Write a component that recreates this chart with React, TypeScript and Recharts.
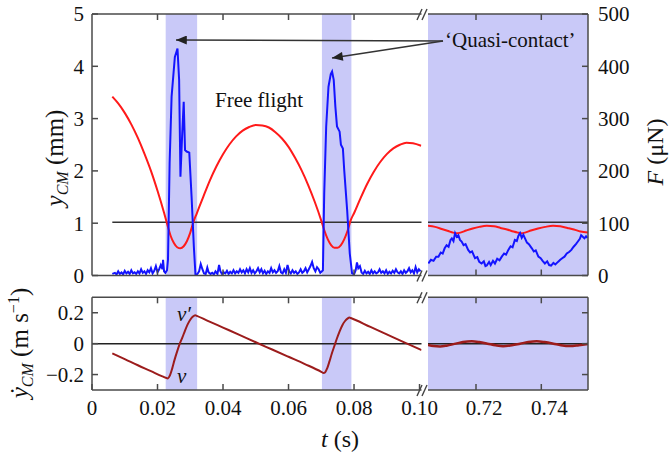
import React from 'react';
import { ComposedChart, Line, XAxis, YAxis, ReferenceArea, ReferenceLine } from 'recharts';

// height of the centre of mass, y_CM (mm) — first window 0–0.10 s
const heightEarly: [number, number][] = [
  [0.0062, 3.42], [0.008, 3.29], [0.010, 3.11], [0.012, 2.89], [0.014, 2.63], [0.016, 2.33],
  [0.018, 2.0], [0.020, 1.62], [0.022, 1.2], [0.023, 0.97], [0.024, 0.76], [0.025, 0.62],
  [0.026, 0.54], [0.027, 0.52], [0.028, 0.56], [0.029, 0.66], [0.030, 0.82], [0.031, 1.03],
  [0.032, 1.19], [0.034, 1.51], [0.036, 1.82], [0.038, 2.09], [0.040, 2.32], [0.042, 2.51],
  [0.044, 2.66], [0.046, 2.77], [0.048, 2.84], [0.050, 2.88], [0.052, 2.87], [0.054, 2.83],
  [0.056, 2.74], [0.058, 2.62], [0.060, 2.46], [0.062, 2.25], [0.064, 2.01], [0.066, 1.73],
  [0.068, 1.41], [0.070, 1.05], [0.071, 0.85], [0.072, 0.69], [0.073, 0.58], [0.074, 0.53],
  [0.075, 0.53], [0.076, 0.58], [0.077, 0.69], [0.078, 0.85], [0.079, 1.06], [0.080, 1.19],
  [0.082, 1.48], [0.084, 1.75], [0.086, 1.98], [0.088, 2.17], [0.090, 2.32], [0.092, 2.43],
  [0.094, 2.5], [0.096, 2.54], [0.098, 2.53], [0.1005, 2.48],
];

// y_CM (mm) — late window, steady bouncing
const heightLate: [number, number][] = [
  [0.7053, 0.95], [0.7075, 0.93], [0.7095, 0.89], [0.7115, 0.85], [0.713, 0.82], [0.7141, 0.81],
  [0.7152, 0.82], [0.717, 0.86], [0.719, 0.9], [0.721, 0.93], [0.7233, 0.95], [0.7255, 0.94],
  [0.7275, 0.91], [0.7295, 0.88], [0.7315, 0.84], [0.7328, 0.82], [0.7338, 0.81], [0.735, 0.82],
  [0.7368, 0.86], [0.739, 0.9], [0.7412, 0.93], [0.7436, 0.95], [0.7458, 0.94], [0.748, 0.91],
  [0.75, 0.88], [0.752, 0.84], [0.7543, 0.82],
];

// force F (µN) — first window
const forceEarly: [number, number][] = [
  [0.0062, 3], [0.007, 5], [0.0075, 2], [0.008, 8], [0.0085, 3], [0.009, 6], [0.0095, 2],
  [0.010, 9], [0.0105, 4], [0.011, 7], [0.0115, 3], [0.012, 10], [0.0125, 4], [0.013, 6],
  [0.0135, 3], [0.014, 8], [0.0145, 4], [0.015, 12], [0.0155, 5], [0.016, 8], [0.0165, 3],
  [0.017, 10], [0.0175, 6], [0.018, 14], [0.0185, 4], [0.019, 9], [0.0195, 18], [0.020, 6],
  [0.0205, 12], [0.021, 20], [0.0215, 12], [0.0217, 30], [0.022, 8], [0.0224, 5], [0.0229, 10],
  [0.0232, 30], [0.0237, 215], [0.0243, 342], [0.0253, 418], [0.0261, 434], [0.0266, 374],
  [0.027, 189], [0.0275, 265], [0.028, 332], [0.0284, 240], [0.0289, 237], [0.0297, 235],
  [0.0304, 151], [0.0311, 55], [0.0316, 0], [0.0322, 3], [0.0327, 8], [0.0332, 22], [0.0337, 12],
  [0.0342, 4], [0.0347, 3], [0.0352, 15], [0.0356, 6], [0.0362, 3], [0.0367, 5], [0.0372, 2],
  [0.0377, 8], [0.0383, 3], [0.0388, 20], [0.0392, 8], [0.0397, 3], [0.0402, 6], [0.0407, 4],
  [0.0412, 9], [0.0417, 3], [0.0422, 7], [0.0427, 4], [0.0432, 10], [0.0437, 4], [0.0442, 8],
  [0.0447, 5], [0.0452, 12], [0.0457, 6], [0.0462, 10], [0.0467, 4], [0.0472, 12], [0.0477, 6],
  [0.0482, 14], [0.0487, 5], [0.0492, 10], [0.0497, 4], [0.0502, 8], [0.0507, 14], [0.0512, 6],
  [0.0517, 12], [0.0522, 4], [0.0527, 9], [0.0532, 3], [0.0537, 8], [0.0542, 5], [0.0547, 14],
  [0.0552, 6], [0.0557, 10], [0.0562, 5], [0.0567, 8], [0.0572, 18], [0.0577, 6], [0.0582, 4],
  [0.0587, 12], [0.0592, 5], [0.0597, 20], [0.0602, 8], [0.0607, 4], [0.0612, 10], [0.0617, 5],
  [0.0622, 8], [0.0627, 3], [0.0632, 6], [0.0637, 12], [0.0642, 5], [0.0647, 8], [0.0652, 14],
  [0.0657, 6], [0.0662, 12], [0.0667, 18], [0.0672, 26], [0.0677, 14], [0.0682, 8], [0.0687, 16],
  [0.0692, 12], [0.0697, 5], [0.0702, 8], [0.0705, 10], [0.0709, 157], [0.0715, 285],
  [0.0722, 361], [0.0729, 385], [0.0733, 390], [0.0738, 374], [0.0743, 323], [0.0748, 285],
  [0.0756, 275], [0.076, 250], [0.0766, 243], [0.077, 202], [0.0779, 125], [0.0787, 42],
  [0.0794, 4], [0.08, 2], [0.0805, 10], [0.0809, 25], [0.0813, 14], [0.0818, 18], [0.0823, 6],
  [0.0828, 3], [0.0833, 9], [0.0838, 4], [0.0843, 7], [0.0848, 3], [0.0853, 10], [0.0858, 4],
  [0.0863, 8], [0.0868, 4], [0.0873, 6], [0.0878, 12], [0.0883, 5], [0.0888, 8], [0.0893, 4],
  [0.0898, 10], [0.0903, 3], [0.0908, 7], [0.0913, 4], [0.0918, 9], [0.0923, 5], [0.0928, 12],
  [0.0933, 6], [0.0938, 4], [0.0943, 8], [0.0948, 3], [0.0953, 10], [0.0958, 5], [0.0963, 8],
  [0.0968, 14], [0.0973, 6], [0.0978, 10], [0.0983, 4], [0.0988, 16], [0.0993, 6], [0.0998, 12],
  [0.1003, 8],
];

// force F (µN) — late window
const forceLate: [number, number][] = [
  [0.7054, 23], [0.7062, 30], [0.707, 28], [0.7078, 36], [0.7085, 36], [0.7092, 44], [0.7098, 42],
  [0.7104, 52], [0.711, 58], [0.7116, 55], [0.7122, 68], [0.7126, 71], [0.7131, 66], [0.7136, 81],
  [0.7141, 74], [0.7146, 77], [0.7151, 68], [0.7156, 65], [0.7162, 58], [0.7168, 60], [0.7176, 49],
  [0.7182, 44], [0.7188, 46], [0.7197, 33], [0.7204, 35], [0.721, 26], [0.7217, 23], [0.7224, 27],
  [0.7229, 18], [0.7233, 19], [0.724, 26], [0.7245, 20], [0.7252, 28], [0.7258, 23], [0.7265, 32],
  [0.7272, 29], [0.7279, 36], [0.7286, 42], [0.7292, 40], [0.7299, 49], [0.7306, 56], [0.7312, 54],
  [0.7319, 68], [0.7325, 66], [0.733, 76], [0.7335, 81], [0.734, 72], [0.7345, 78], [0.735, 71],
  [0.7356, 63], [0.7362, 60], [0.7371, 52], [0.7377, 46], [0.7383, 48], [0.7391, 36], [0.7398, 33],
  [0.7404, 28], [0.7411, 23], [0.7418, 27], [0.7424, 20], [0.743, 19], [0.7437, 24], [0.7443, 21],
  [0.7451, 26], [0.7458, 30], [0.7464, 33], [0.7471, 36], [0.7478, 42], [0.7485, 45], [0.7492, 49],
  [0.7499, 55], [0.7506, 60], [0.7512, 65], [0.7518, 70], [0.7522, 77], [0.7527, 74], [0.7532, 71],
  [0.7537, 75], [0.7541, 72],
];

// vertical velocity of the centre of mass (m/s)
const velocityEarly: [number, number][] = [
  [0.0062, -0.063], [0.010, -0.1], [0.014, -0.14], [0.018, -0.178], [0.0215, -0.212],
  [0.0232, -0.225], [0.0238, -0.205], [0.0245, -0.16], [0.0252, -0.105], [0.026, -0.05],
  [0.0268, 0.0], [0.0276, 0.04], [0.0284, 0.085], [0.0292, 0.125], [0.030, 0.155],
  [0.0308, 0.175], [0.0315, 0.184], [0.032, 0.18], [0.035, 0.151], [0.040, 0.104],
  [0.045, 0.057], [0.050, 0.009], [0.055, -0.038], [0.060, -0.085], [0.065, -0.132],
  [0.070, -0.182], [0.0707, -0.19], [0.0712, -0.185], [0.0718, -0.16], [0.0725, -0.115],
  [0.0732, -0.065], [0.074, -0.015], [0.0748, 0.035], [0.0756, 0.08], [0.0764, 0.118],
  [0.0772, 0.145], [0.078, 0.162], [0.0786, 0.169], [0.079, 0.166], [0.085, 0.108],
  [0.090, 0.06], [0.095, 0.012], [0.1006, -0.042],
];

const velocityLate: [number, number][] = [
  [0.7053, -0.008], [0.707, -0.015], [0.709, -0.018], [0.711, -0.013], [0.7138, 0.0],
  [0.716, 0.01], [0.7187, 0.015], [0.721, 0.01], [0.7235, 0.0], [0.726, -0.011],
  [0.7283, -0.017], [0.731, -0.01], [0.7335, 0.0], [0.736, 0.01], [0.7386, 0.015],
  [0.741, 0.01], [0.7437, 0.0], [0.746, -0.01], [0.7488, -0.016], [0.7515, -0.01],
  [0.7543, -0.002],
];

// shaded 'quasi-contact' intervals (s)
const contactBands: [number, number][] = [[0.0225, 0.0321], [0.0702, 0.0792]];

const earlyRange: [number, number] = [0, 0.1006];
const lateRange: [number, number] = [0.7053, 0.7543];
const earlyTicks = [0, 0.02, 0.04, 0.06, 0.08, 0.1];
const earlyInnerTicks = [0.02, 0.04, 0.06, 0.08];
const lateTicks = [0.72, 0.74];
const heightTicks = [0, 1, 2, 3, 4, 5];
const forceTicks = [0, 100, 200, 300, 400, 500];
const velocityTicks = [-0.2, 0, 0.2];

const thresholdHeight = 1.02;
const thresholdStart = 0.0062;

const W = 669;
const H = 459;
const SERIF = 'Liberation Serif, DejaVu Serif, serif';
const AXIS = '#4a4a4a';
const RED = '#ff1a1a';
const BLUE = '#1414ff';
const DARK_RED = '#9c1c1c';
const BAND = '#c9c9f8';

const rows = (pts: [number, number][]) => pts.map(([t, v]) => ({ t, v }));

const axisLine = { stroke: AXIS, strokeWidth: 1.5 };
const tickLine = { stroke: AXIS, strokeWidth: 1.5 };
const blank = () => '';
const fmtPlain = (v: number) => String(v);
const fmtTime = (v: number) => (v === 0 ? '0' : v.toFixed(2));
const fmtVel = (v: number) => (v === 0 ? '0' : v < 0 ? '\u2212' + Math.abs(v).toFixed(1) : v.toFixed(1));

// plain svg tick label so the serif face is set on the text node itself
const tickLabel = (fmt: (v: number) => string, shift = 0) => (p: any) => {
  const dy = p.verticalAnchor === 'start' ? '0.71em' : '0.35em';
  return (
    <text x={p.x + shift} y={p.y} dy={dy} textAnchor={p.textAnchor} fill="#111"
      fontSize={21} fontFamily={SERIF} style={{ fontFamily: SERIF }}>
      {fmt(p.payload.value)}
    </text>
  );
};

const layer: React.CSSProperties = { position: 'absolute', left: 0, top: 0 };

const topMargin = { top: 4, bottom: 173.5 };
const bottomMargin = { top: 287.3, bottom: 29 };

const Slashes = ({ y }: { y: number }) => (
  <g stroke="#444" strokeWidth={1.4}>
    <line x1={417} y1={y + 6} x2={422} y2={y - 5} />
    <line x1={422} y1={y + 6} x2={427} y2={y - 5} />
  </g>
);

const serif = { fontFamily: SERIF };

export default function App() {
  return (
    <div style={{ position: 'absolute', left: 0, top: 0, width: W, height: H, background: '#fff', fontFamily: SERIF }}>
      {/* top panel, early window */}
      <div style={layer}>
        <ComposedChart width={W} height={H} margin={{ ...topMargin, left: 0, right: 247.5 }}>
          <XAxis xAxisId="b" type="number" dataKey="t" domain={earlyRange} allowDataOverflow
            ticks={earlyInnerTicks} tickFormatter={blank} height={10} tickSize={-6}
            axisLine={axisLine} tickLine={tickLine} />
          <XAxis xAxisId="t" orientation="top" type="number" dataKey="t" domain={earlyRange} allowDataOverflow
            ticks={earlyInnerTicks} tickFormatter={blank} height={10} tickSize={-6}
            axisLine={axisLine} tickLine={tickLine} />
          <YAxis yAxisId="mm" type="number" domain={[0, 5]} allowDataOverflow ticks={heightTicks}
            width={92} tickSize={-6} tickMargin={14} tick={tickLabel(fmtPlain)}
            axisLine={axisLine} tickLine={tickLine} />
          <YAxis yAxisId="F" orientation="right" type="number" domain={[0, 500]} allowDataOverflow hide />
          {contactBands.map(([a, b]) => (
            <ReferenceArea key={a} xAxisId="b" yAxisId="mm" x1={a} x2={b} fill={BAND} fillOpacity={1} stroke="none" />
          ))}
          <ReferenceLine xAxisId="b" yAxisId="mm" stroke="#333" strokeWidth={1.5}
            segment={[{ x: thresholdStart, y: thresholdHeight }, { x: earlyRange[1], y: thresholdHeight }]} />
          <Line xAxisId="b" yAxisId="mm" data={rows(heightEarly)} dataKey="v" type="monotone"
            stroke={RED} strokeWidth={2} dot={false} isAnimationActive={false} />
          <Line xAxisId="b" yAxisId="F" data={rows(forceEarly)} dataKey="v" type="linear"
            stroke={BLUE} strokeWidth={2} dot={false} isAnimationActive={false} />
        </ComposedChart>
      </div>

      {/* top panel, late window */}
      <div style={layer}>
        <ComposedChart width={W} height={H} margin={{ ...topMargin, left: 428, right: 0 }}>
          <XAxis xAxisId="b" type="number" dataKey="t" domain={lateRange} allowDataOverflow
            ticks={lateTicks} tickFormatter={blank} height={10} tickSize={-6}
            axisLine={axisLine} tickLine={tickLine} />
          <XAxis xAxisId="t" orientation="top" type="number" dataKey="t" domain={lateRange} allowDataOverflow
            ticks={lateTicks} tickFormatter={blank} height={10} tickSize={-6}
            axisLine={axisLine} tickLine={tickLine} />
          <YAxis yAxisId="mm" type="number" domain={[0, 5]} allowDataOverflow hide />
          <YAxis yAxisId="F" orientation="right" type="number" domain={[0, 500]} allowDataOverflow
            ticks={forceTicks} width={81} tickSize={-6} tickMargin={16} tick={tickLabel(fmtPlain)}
            axisLine={axisLine} tickLine={tickLine} />
          <ReferenceArea xAxisId="b" yAxisId="mm" x1={lateRange[0]} x2={lateRange[1]} fill={BAND} fillOpacity={1} stroke="none" />
          <ReferenceLine xAxisId="b" yAxisId="mm" y={thresholdHeight} stroke="#333" strokeWidth={1.5} />
          <Line xAxisId="b" yAxisId="mm" data={rows(heightLate)} dataKey="v" type="monotone"
            stroke={RED} strokeWidth={2} dot={false} isAnimationActive={false} />
          <Line xAxisId="b" yAxisId="F" data={rows(forceLate)} dataKey="v" type="linear"
            stroke={BLUE} strokeWidth={2} dot={false} isAnimationActive={false} />
        </ComposedChart>
      </div>

      {/* bottom panel, early window */}
      <div style={layer}>
        <ComposedChart width={W} height={H} margin={{ ...bottomMargin, left: 0, right: 247.5 }}>
          <XAxis xAxisId="b" type="number" dataKey="t" domain={earlyRange} allowDataOverflow
            ticks={earlyTicks} height={40} tickSize={-6} tickMargin={16}
            tick={tickLabel(fmtTime)} axisLine={axisLine} tickLine={tickLine} />
          <XAxis xAxisId="t" orientation="top" type="number" dataKey="t" domain={earlyRange} allowDataOverflow
            ticks={earlyInnerTicks} tickFormatter={blank} height={10} tickSize={-6}
            axisLine={axisLine} tickLine={tickLine} />
          <YAxis yAxisId="v" type="number" domain={[-0.3, 0.3]} allowDataOverflow ticks={velocityTicks}
            width={92} tickSize={-6} tickMargin={14} tick={tickLabel(fmtVel)}
            axisLine={axisLine} tickLine={tickLine} />
          {contactBands.map(([a, b]) => (
            <ReferenceArea key={a} xAxisId="b" yAxisId="v" x1={a} x2={b} fill={BAND} fillOpacity={1} stroke="none" />
          ))}
          <ReferenceLine xAxisId="b" yAxisId="v" y={0} stroke="#222" strokeWidth={1.5} />
          <Line xAxisId="b" yAxisId="v" data={rows(velocityEarly)} dataKey="v" type="monotone"
            stroke={DARK_RED} strokeWidth={2} dot={false} isAnimationActive={false} />
        </ComposedChart>
      </div>

      {/* bottom panel, late window */}
      <div style={layer}>
        <ComposedChart width={W} height={H} margin={{ ...bottomMargin, left: 428, right: 0 }}>
          <XAxis xAxisId="b" type="number" dataKey="t" domain={lateRange} allowDataOverflow
            ticks={lateTicks} height={40} tickSize={-6} tickMargin={16}
            tick={tickLabel(fmtTime, 8)} axisLine={axisLine} tickLine={tickLine} />
          <XAxis xAxisId="t" orientation="top" type="number" dataKey="t" domain={lateRange} allowDataOverflow
            ticks={lateTicks} tickFormatter={blank} height={10} tickSize={-6}
            axisLine={axisLine} tickLine={tickLine} />
          <YAxis yAxisId="v" orientation="right" type="number" domain={[-0.3, 0.3]} allowDataOverflow
            ticks={velocityTicks} tickFormatter={blank} width={81} tickSize={-6}
            axisLine={axisLine} tickLine={tickLine} />
          <ReferenceArea xAxisId="b" yAxisId="v" x1={lateRange[0]} x2={lateRange[1]} fill={BAND} fillOpacity={1} stroke="none" />
          <ReferenceLine xAxisId="b" yAxisId="v" y={0} stroke="#222" strokeWidth={1.5} />
          <Line xAxisId="b" yAxisId="v" data={rows(velocityLate)} dataKey="v" type="monotone"
            stroke={DARK_RED} strokeWidth={2.5} dot={false} isAnimationActive={false} />
        </ComposedChart>
      </div>

      {/* annotations, axis titles and axis breaks */}
      <svg width={W} height={H} style={{ ...layer, pointerEvents: 'none', fontFamily: SERIF }} fill="#111">
        <defs>
          <marker id="head" viewBox="0 0 12 10" refX={12} refY={5} markerWidth={13} markerHeight={9}
            markerUnits="userSpaceOnUse" orient="auto">
            <path d="M0,0 L12,5 L0,10 z" fill="#222" />
          </marker>
        </defs>
        <line x1={443} y1={41} x2={176} y2={40} stroke="#333" strokeWidth={1.5} markerEnd="url(#head)" />
        <line x1={443} y1={41} x2={332} y2={58} stroke="#333" strokeWidth={1.5} markerEnd="url(#head)" />
        <text x={445} y={47} fontSize={21} style={serif}>{'\u2018Quasi-contact\u2019'}</text>
        <text x={215} y={107} fontSize={21} style={serif}>Free flight</text>
        <text x={177} y={320.5} fontSize={21} fontStyle="italic" style={serif}>{'v\u2032'}</text>
        <text x={177} y={383} fontSize={21} fontStyle="italic" style={serif}>v</text>

        <text transform="rotate(-90 63 158)" x={63} y={158} textAnchor="middle" fontSize={25} style={serif}>
          <tspan fontStyle="italic" style={serif}>y</tspan>
          <tspan fontStyle="italic" fontSize={16} dy={5} style={serif}>CM</tspan>
          <tspan dy={-5} style={serif}>{' (mm)'}</tspan>
        </text>
        <text transform="rotate(-90 663 152)" x={663} y={152} textAnchor="middle" fontSize={24} style={serif}>
          <tspan fontStyle="italic" style={serif}>F</tspan>
          <tspan style={serif}>{' (\u03bcN)'}</tspan>
        </text>
        <text transform="rotate(-90 28 343)" x={28} y={343} textAnchor="middle" fontSize={25} style={serif}>
          <tspan fontStyle="italic" style={serif}>{'\u1e8f'}</tspan>
          <tspan fontStyle="italic" fontSize={16} dy={5} style={serif}>CM</tspan>
          <tspan dy={-5} style={serif}>{' (m s'}</tspan>
          <tspan fontSize={16} dy={-9} style={serif}>{'\u22121'}</tspan>
          <tspan dy={9} style={serif}>)</tspan>
        </text>
        <text x={340} y={447} textAnchor="middle" fontSize={24} style={serif}>
          <tspan fontStyle="italic" style={serif}>t</tspan>
          <tspan style={serif}>{' (s)'}</tspan>
        </text>

        <Slashes y={14} />
        <Slashes y={275.5} />
        <Slashes y={297.3} />
        <Slashes y={390} />
      </svg>
    </div>
  );
}
